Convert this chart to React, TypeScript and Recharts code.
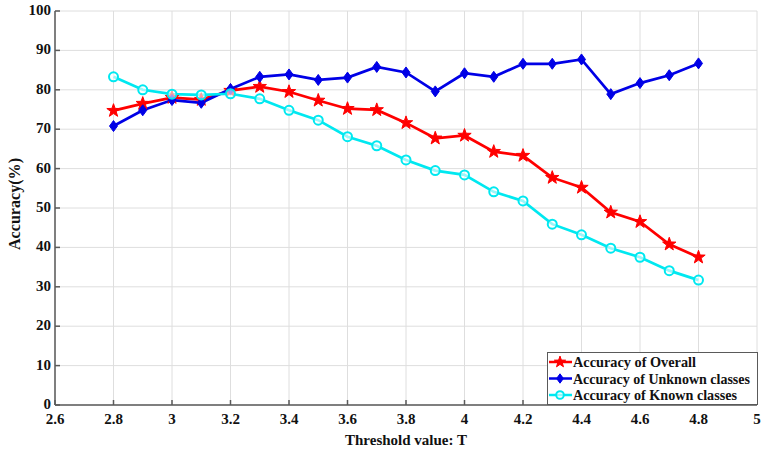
import React from "react";
import { LineChart, Line, XAxis, YAxis, CartesianGrid, Legend } from "recharts";

const thresholds = [2.8, 2.9, 3.0, 3.1, 3.2, 3.3, 3.4, 3.5, 3.6, 3.7, 3.8, 3.9, 4.0, 4.1, 4.2, 4.3, 4.4, 4.5, 4.6, 4.7, 4.8];
const overall = [74.7, 76.5, 78.0, 77.5, 79.8, 80.8, 79.5, 77.3, 75.2, 74.9, 71.6, 67.7, 68.4, 64.3, 63.3, 57.7, 55.2, 48.9, 46.5, 40.8, 37.5];
const unknown = [70.8, 74.8, 77.4, 76.7, 80.2, 83.3, 83.9, 82.5, 83.1, 85.8, 84.4, 79.6, 84.2, 83.3, 86.6, 86.6, 87.7, 78.9, 81.7, 83.7, 86.7];
const known = [83.3, 80.0, 78.9, 78.7, 79.0, 77.7, 74.8, 72.3, 68.1, 65.8, 62.2, 59.5, 58.4, 54.1, 51.8, 45.9, 43.2, 39.8, 37.5, 34.1, 31.7];
const xTicks = [2.6, 2.8, 3.0, 3.2, 3.4, 3.6, 3.8, 4.0, 4.2, 4.4, 4.6, 4.8, 5.0];
const yTicks = [0, 10, 20, 30, 40, 50, 60, 70, 80, 90, 100];
const seriesNames = ["Accuracy of Overall", "Accuracy of Unknown classes", "Accuracy of Known classes"];

const data = thresholds.map((t, i) => ({ t, overall: overall[i], unknown: unknown[i], known: known[i] }));

const FONT = "'Liberation Serif', 'Times New Roman', serif";
const AXIS = "#5a5a5a";
const RED = "#ff0000";
const BLUE = "#0000e6";
const CYAN = "#00e8f0";

const fmt = (v: number) => String(Math.round(v * 10) / 10);

function starPoints(cx: number, cy: number, R: number, r: number) {
  const pts: string[] = [];
  for (let k = 0; k < 10; k++) {
    const rad = k % 2 === 0 ? R : r;
    const a = -Math.PI / 2 + (k * Math.PI) / 5;
    pts.push(`${cx + rad * Math.cos(a)},${cy + rad * Math.sin(a)}`);
  }
  return pts.join(" ");
}

const Star = (cx: number, cy: number, s = 1, key?: any) => (
  <polygon key={key} points={starPoints(cx, cy, 7 * s, 2.8 * s)} fill={RED} stroke={RED} strokeWidth={1} />
);
const Diamond = (cx: number, cy: number, s = 1, key?: any) => (
  <polygon
    key={key}
    points={`${cx},${cy - 5.5 * s} ${cx + 4 * s},${cy} ${cx},${cy + 5.5 * s} ${cx - 4 * s},${cy}`}
    fill={BLUE}
    stroke={BLUE}
    strokeWidth={1}
  />
);
const Circle = (cx: number, cy: number, s = 1, key?: any) => (
  <circle key={key} cx={cx} cy={cy} r={4.5 * s} fill="#ffffff" fillOpacity={0.6} stroke={CYAN} strokeWidth={2} />
);

const makeDot = (fn: (cx: number, cy: number, s?: number, key?: any) => React.ReactElement) => (p: any) => {
  if (p.cx == null || p.cy == null) return <g key={p.key} />;
  return fn(p.cx, p.cy, 1, p.key);
};

const BottomTick = (p: any) => (
  <g>
    <line x1={p.x} x2={p.x} y1={p.y} y2={p.y - 5} stroke={AXIS} strokeWidth={1.5} />
    <text x={p.x} y={p.y + 19} textAnchor="middle" fontFamily={FONT} fontWeight="bold" fontSize={15} fill="#111">
      {fmt(p.payload.value)}
    </text>
  </g>
);
const TopTick = (p: any) => (
  <g>
    <line x1={p.x} x2={p.x} y1={p.y} y2={p.y + 5} stroke={AXIS} strokeWidth={1.5} />
  </g>
);
const LeftTick = (p: any) => (
  <g>
    <line x1={p.x} x2={p.x + 5} y1={p.y} y2={p.y} stroke={AXIS} strokeWidth={1.5} />
    <text x={p.x - 4} y={p.y + 4} textAnchor="end" fontFamily={FONT} fontWeight="bold" fontSize={15} fill="#111">
      {fmt(p.payload.value)}
    </text>
  </g>
);
const RightTick = (p: any) => (
  <g>
    <line x1={p.x} x2={p.x - 5} y1={p.y} y2={p.y} stroke={AXIS} strokeWidth={1.5} />
  </g>
);

const YLabel = () => (
  <text
    x={0}
    y={0}
    transform="translate(20, 204) rotate(-90)"
    textAnchor="middle"
    fontFamily={FONT}
    fontWeight="bold"
    fontSize={17}
    fill="#111"
    textLength={92}
    lengthAdjust="spacingAndGlyphs"
  >
    Accuracy(%)
  </text>
);

const legendItems = [
  { name: seriesNames[0], color: RED, marker: Star, len: 123 },
  { name: seriesNames[1], color: BLUE, marker: Diamond, len: 177 },
  { name: seriesNames[2], color: CYAN, marker: Circle, len: 164 },
];

const LegendBox = () => (
  <svg width={211} height={53} style={{ display: "block", overflow: "visible" }}>
    <rect x={0.5} y={0.5} width={210} height={52} fill="#fff" stroke={AXIS} strokeWidth={1} />
    {legendItems.map((it, i) => {
      const cy = 10 + i * 16.5;
      return (
        <g key={it.name}>
          <line x1={2} x2={25} y1={cy} y2={cy} stroke={it.color} strokeWidth={2.5} />
          {it.marker(13, cy, 0.85)}
          <text
            x={26}
            y={cy + 5}
            fontFamily={FONT}
            fontWeight="bold"
            fontSize={15}
            fill="#111"
            textLength={it.len}
            lengthAdjust="spacingAndGlyphs"
          >
            {it.name}
          </text>
        </g>
      );
    })}
  </svg>
);

export default function App() {
  return (
    <div style={{ position: "absolute", left: 0, top: 0, width: 765, height: 449, background: "#fff" }}>
      <LineChart width={765} height={449} data={data} margin={{ top: 11, right: 8, left: 0, bottom: 0 }}>
        <CartesianGrid stroke="#dedede" strokeWidth={1} />
        <XAxis
          dataKey="t"
          type="number"
          domain={[2.6, 5]}
          ticks={xTicks}
          allowDataOverflow
          height={44}
          tickSize={0}
          tickMargin={0}
          tickLine={false}
          tick={<BottomTick />}
          stroke={AXIS}
          strokeWidth={1.5}
          interval={0}
          label={{ value: "Threshold value: T", position: "insideBottom", offset: 4, fontFamily: FONT, fontWeight: "bold", fontSize: 15, fill: "#111" }}
        />
        <XAxis
          xAxisId="top"
          orientation="top"
          dataKey="t"
          type="number"
          domain={[2.6, 5]}
          ticks={xTicks}
          allowDataOverflow
          height={0}
          tickSize={0}
          tickMargin={0}
          tickLine={false}
          tick={<TopTick />}
          stroke={AXIS}
          strokeWidth={1.5}
          interval={0}
        />
        <YAxis
          type="number"
          domain={[0, 100]}
          ticks={yTicks}
          width={55}
          tickSize={0}
          tickMargin={0}
          tickLine={false}
          tick={<LeftTick />}
          stroke={AXIS}
          strokeWidth={1.5}
          interval={0}
          label={<YLabel />}
        />
        <YAxis
          yAxisId="r"
          orientation="right"
          type="number"
          domain={[0, 100]}
          ticks={yTicks}
          width={0}
          tickSize={0}
          tickMargin={0}
          tickLine={false}
          tick={<RightTick />}
          stroke={AXIS}
          strokeWidth={1.5}
          interval={0}
        />
        <Line dataKey="overall" name={seriesNames[0]} stroke={RED} strokeWidth={2.7} dot={makeDot(Star)} isAnimationActive={false} />
        <Line dataKey="unknown" name={seriesNames[1]} stroke={BLUE} strokeWidth={2.7} dot={makeDot(Diamond)} isAnimationActive={false} />
        <Line dataKey="known" name={seriesNames[2]} stroke={CYAN} strokeWidth={2.7} dot={makeDot(Circle)} isAnimationActive={false} />
        <Legend
          layout="vertical"
          align="center"
          verticalAlign="middle"
          content={() => <LegendBox />}
          wrapperStyle={{ position: "absolute", left: 547, top: 352, width: 211, height: 53 }}
        />
      </LineChart>
    </div>
  );
}
